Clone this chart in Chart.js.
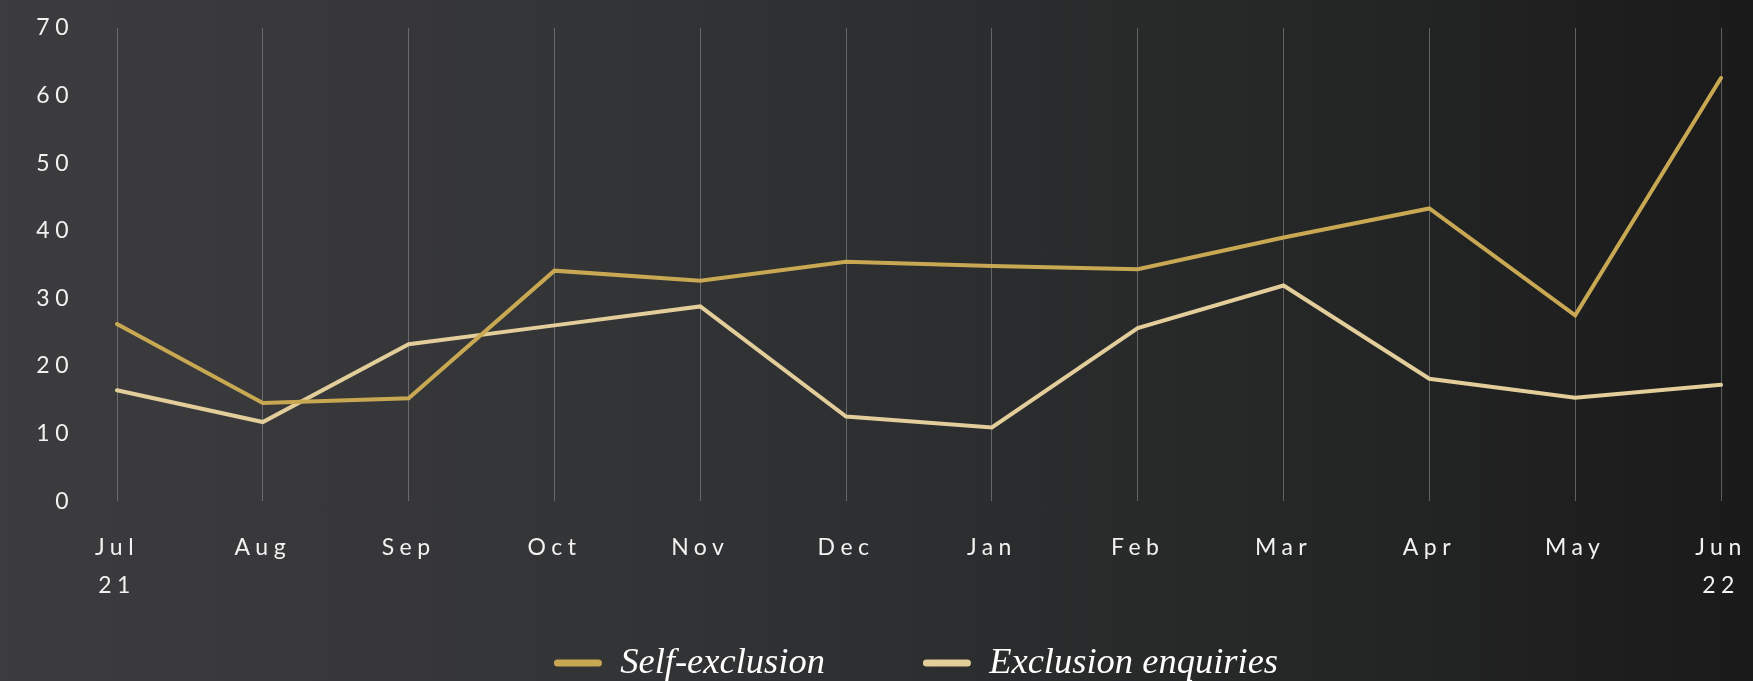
<!DOCTYPE html>
<html>
<head>
<meta charset="utf-8">
<script src="https://cdn.jsdelivr.net/npm/chart.js@4.4.1/dist/chart.umd.min.js"></script>
<style>
  html, body { margin: 0; padding: 0; }
  body {
    width: 1753px; height: 681px; overflow: hidden;
    background: linear-gradient(to right, #3c3c3e 0%, #333435 35%, #2c2d2e 55%, #232424 80%, #1a1a1a 100%);
  }
  #wrap { position: relative; width: 1753px; height: 681px; }
</style>
</head>
<body>
<div id="wrap"><canvas id="c" width="1753" height="681"></canvas></div>
<script>
const categories = [['Jul', '21'], 'Aug', 'Sep', 'Oct', 'Nov', 'Dec', 'Jan', 'Feb', 'Mar', 'Apr', 'May', ['Jun', '22']];
const selfExclusion = [26.2, 14.5, 15.2, 34.1, 32.6, 35.4, 34.8, 34.3, 39.0, 43.3, 27.5, 62.6];
const exclusionEnquiries = [16.4, 11.7, 23.2, 26.0, 28.8, 12.5, 10.9, 25.6, 31.9, 18.1, 15.3, 17.2];
const yTicks = [0, 10, 20, 30, 40, 50, 60, 70];
const seriesNames = ['Self-exclusion', 'Exclusion enquiries'];

const GOLD = '#c9a853';
const BEIGE = '#e2cd9b';
const TICK_FONT = { family: 'Lato', size: 23, weight: 400, lineHeight: 1.65 };
const TICK_SPACING = '5.5px';
const LEGEND_CENTER_X = 916;
const LEGEND_TEXT_Y = 663;
const LEGEND_PAD = 98;
const LEGEND_FONT_SIZE = 36.5;

function withSpacing(ctx, sp, fn) {
  const prev = ctx.letterSpacing;
  ctx.letterSpacing = sp;
  try { return fn(); } finally { ctx.letterSpacing = prev; }
}

const layoutPlugin = {
  id: 'layoutTweaks',
  beforeUpdate(chart) {
    chart.ctx.letterSpacing = TICK_SPACING;
    const lg = chart.legend;
    if (lg && !lg._wrapped) {
      const origFit = lg.fit.bind(lg);
      const origDraw = lg.draw.bind(lg);
      lg.fit = function () { return withSpacing(chart.ctx, '0px', origFit); };
      lg.draw = function (a) { return withSpacing(chart.ctx, '0px', () => origDraw(a)); };
      lg._wrapped = true;
    }
  },
  beforeDraw(chart) { chart.ctx.letterSpacing = TICK_SPACING; },
  afterLayout(chart) {
    const lg = chart.legend;
    if (!lg) return;
    const dx = LEGEND_CENTER_X - (lg.left + lg.right) / 2;
    lg.left += dx; lg.right += dx;
    lg.top = LEGEND_TEXT_Y - LEGEND_FONT_SIZE / 2 - LEGEND_PAD;
    lg.bottom = chart.height;
    lg.height = lg.bottom - lg.top;
  }
};

new Chart(document.getElementById('c'), {
  type: 'line',
  data: {
    labels: categories,
    datasets: [
      { label: seriesNames[0], data: selfExclusion, borderColor: GOLD, backgroundColor: GOLD,
        borderWidth: 4, pointRadius: 0, tension: 0, borderCapStyle: 'round', borderJoinStyle: 'miter' },
      { label: seriesNames[1], data: exclusionEnquiries, borderColor: BEIGE, backgroundColor: BEIGE,
        borderWidth: 4, pointRadius: 0, tension: 0, borderCapStyle: 'round', borderJoinStyle: 'miter' }
    ]
  },
  options: {
    responsive: false,
    animation: false,
    devicePixelRatio: 1,
    layout: { padding: { left: 0, right: 0, top: 28, bottom: 0 } },
    plugins: {
      tooltip: { enabled: false },
      legend: {
        position: 'bottom',
        maxHeight: 48,
        onClick: null,
        labels: {
          color: '#ffffff',
          font: { family: 'Liberation Serif', size: LEGEND_FONT_SIZE, style: 'italic' },
          boxWidth: 48,
          boxHeight: 7,
          useBorderRadius: true,
          borderRadius: 3.5,
          padding: LEGEND_PAD,
          generateLabels(chart) {
            return chart.data.datasets.map((ds, i) => ({
              text: ds.label, fillStyle: ds.borderColor, strokeStyle: ds.borderColor,
              lineWidth: 0, hidden: false, datasetIndex: i, fontColor: '#ffffff',
              borderRadius: 3.5
            }));
          }
        }
      }
    },
    scales: {
      x: {
        border: { display: false },
        grid: { display: true, color: 'rgba(150,150,150,0.55)', lineWidth: 1, drawTicks: false },
        ticks: { color: '#f2f2f2', font: TICK_FONT, padding: 28, maxRotation: 0, autoSkip: false },
        afterFit(s) { s.paddingLeft = 0; s.paddingRight = 32; }
      },
      y: {
        min: 0, max: 70,
        border: { display: false },
        grid: { display: false, drawTicks: false },
        afterBuildTicks(s) { s.ticks = yTicks.map(v => ({ value: v })); },
        ticks: { color: '#f2f2f2', font: TICK_FONT, padding: 43 },
        afterFit(s) { s.width = 117; s.paddingTop = 0; s.paddingBottom = 0; }
      }
    }
  },
  plugins: [layoutPlugin]
});
</script>
</body>
</html>
